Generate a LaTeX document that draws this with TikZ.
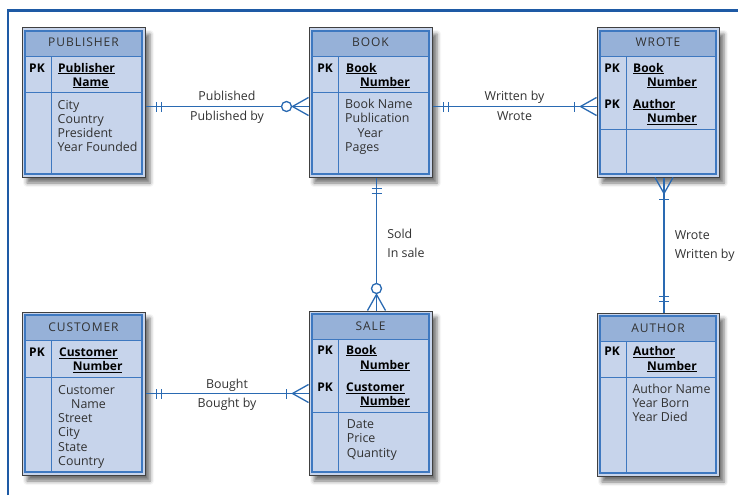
\documentclass[tikz,border=0pt]{standalone}
\usepackage{fontspec}
\setmainfont{Open Sans}
\newfontfamily\headfont[LetterSpace=8]{Open Sans}
\usetikzlibrary{decorations.markings,shadows.blur}

\definecolor{frameblue}{RGB}{30,90,165}
\definecolor{linkblue}{RGB}{42,106,178}
\definecolor{headblue}{RGB}{150,177,216}
\definecolor{bodyblue}{RGB}{199,212,235}
\definecolor{edgeblue}{RGB}{62,120,192}
\definecolor{inkgray}{RGB}{50,50,50}

% table frame: name, left, top, right, bottom, key bottom, title
\newcommand{\ertable}[7]{
	\node[table box, minimum width=#4pt-#2pt, minimum height=#5pt-#3pt] (#1) at ({(#2+#4)/2},{(#3+#5)/2}) {};
	\fill[headblue] (#2+3,#3+3) rectangle (#4-3,#3+28.5);
	\draw[inner line] (#2+3,#3+3) rectangle (#4-3,#5-3);
	\draw[inner line] (#2+3,#3+28.5) -- (#4-3,#3+28.5);
	\draw[inner line] (#2+3,#6) -- (#4-3,#6);
	\draw[inner line] (#2+29.5,#3+28.5) -- (#2+29.5,#5-3);
	\node[head text] (#1-head) at ({(#2+#4)/2},#3+15) {#7};
}

\begin{document}
\begin{tikzpicture}[x=1pt, y=-1pt,
	every node/.style={inner sep=0pt, text height=11pt, text depth=3pt},
	table box/.style={draw=black!75, line width=1pt, fill=bodyblue,
		blur shadow={shadow xshift=5pt, shadow yshift=-6pt, shadow blur radius=4pt, shadow opacity=55}},
	inner line/.style={draw=edgeblue, line width=1.2pt},
	head text/.style={font=\headfont\fontsize{12}{14}\selectfont, text=inkgray},
	pk text/.style={font=\bfseries\fontsize{12}{14}\selectfont, text=black},
	key text/.style={anchor=west, font=\bfseries\fontsize{12}{14}\selectfont, text=black},
	attr text/.style={anchor=west, font=\fontsize{12.4}{14}\selectfont, text=inkgray},
	link label/.style={font=\fontsize{12.4}{14}\selectfont, text=inkgray},
	mark line/.style={draw=linkblue, line width=1.3pt},
	% bars at the start, circle and crow's foot at the end
	one to zeromany/.style={draw=linkblue, line width=1.6pt,
		decoration={markings,
			mark=at position 11pt with {\draw[mark line] (0,-5pt) -- (0,5pt);},
			mark=at position 16pt with {\draw[mark line] (0,-5pt) -- (0,5pt);},
			mark=at position -22pt with {\draw[mark line, fill=white] (0,0) circle (5pt);},
			mark=at position 1 with {\draw[mark line] (0,9pt) -- (-16pt,0) -- (0,-9pt);}},
		postaction={decorate}},
	% bars at the start, bar and crow's foot at the end
	one to onemany/.style={draw=linkblue, line width=1.6pt,
		decoration={markings,
			mark=at position 11pt with {\draw[mark line] (0,-5pt) -- (0,5pt);},
			mark=at position 16pt with {\draw[mark line] (0,-5pt) -- (0,5pt);},
			mark=at position -22pt with {\draw[mark line] (0,-5pt) -- (0,5pt);},
			mark=at position 1 with {\draw[mark line] (0,9pt) -- (-16pt,0) -- (0,-9pt);}},
		postaction={decorate}}
	]
	\useasboundingbox (0,0) rectangle (738,495);

	% outer frame
	\draw[frameblue, line width=2.5pt] (8,495) -- (8,10.5) -- (738,10.5);

	% PUBLISHER
	\ertable{pub}{22}{28}{145}{177}{92.3}{PUBLISHER}
	\node[pk text] (pub-pk) at (37,68) {PK};
	\node[key text] (pub-k1) at (58,68) {\underline{Publisher}};
	\node[key text] (pub-k2) at (72.5,82) {\underline{Name}};
	\foreach \t [count=\i from 0] in {City,Country,President,Year Founded}
		\node[attr text] (pub-a\i) at (57.5,105+14*\i) {\t};

	% BOOK
	\ertable{book}{309}{28}{432}{177}{92.3}{BOOK}
	\node[pk text] (book-pk) at (325,68) {PK};
	\node[key text] (book-k1) at (346,68) {\underline{Book}};
	\node[key text] (book-k2) at (360,82) {\underline{Number}};
	\foreach \t [count=\i from 0] in {Book Name,Publication,\hspace*{12.5pt}Year,Pages}
		\node[attr text] (book-a\i) at (345,104.5+14.3*\i) {\t};

	% WROTE
	\ertable{wrote}{597}{28}{719}{177}{129.3}{WROTE}
	\node[pk text] (wrote-pk1) at (612,68) {PK};
	\node[pk text] (wrote-pk2) at (612,104) {PK};
	\node[key text] (wrote-k1) at (633,68) {\underline{Book}};
	\node[key text] (wrote-k2) at (647,82) {\underline{Number}};
	\node[key text] (wrote-k3) at (633,104) {\underline{Author}};
	\node[key text] (wrote-k4) at (647,118.5) {\underline{Number}};

	% CUSTOMER
	\ertable{cust}{22}{312}{145}{475}{377.3}{CUSTOMER}
	\node[pk text] (cust-pk) at (37,352.7) {PK};
	\node[key text] (cust-k1) at (59,352.7) {\underline{Customer}};
	\node[key text] (cust-k2) at (72.7,366.7) {\underline{Number}};
	\foreach \t [count=\i from 0] in {Customer,\hspace*{13pt}Name,Street,City,State,Country}
		\node[attr text] (cust-a\i) at (58,390+14.3*\i) {\t};

	% SALE
	\ertable{sale}{309}{311}{432}{475}{412.7}{SALE}
	\node[pk text] (sale-pk1) at (325,350) {PK};
	\node[pk text] (sale-pk2) at (325,387.3) {PK};
	\node[key text] (sale-k1) at (346,350) {\underline{Book}};
	\node[key text] (sale-k2) at (360,365) {\underline{Number}};
	\node[key text] (sale-k3) at (346,387.3) {\underline{Customer}};
	\node[key text] (sale-k4) at (360,401) {\underline{Number}};
	\foreach \t [count=\i from 0] in {Date,Price,Quantity}
		\node[attr text] (sale-a\i) at (346.7,424.3+14.5*\i) {\t};

	% AUTHOR
	\ertable{auth}{597}{313}{719}{476}{377.3}{AUTHOR}
	\node[pk text] (auth-pk) at (612,351.7) {PK};
	\node[key text] (auth-k1) at (633,351.7) {\underline{Author}};
	\node[key text] (auth-k2) at (647,366) {\underline{Number}};
	\foreach \t [count=\i from 0] in {Author Name,Year Born,Year Died}
		\node[attr text] (auth-a\i) at (632.3,389.3+14*\i) {\t};

	% relationships
	\draw[one to zeromany] ([yshift=-4pt]pub.east) -- ([yshift=-4pt]book.west)
		node[link label, midway, yshift=10pt] (pub-up) {Published}
		node[link label, midway, yshift=-10pt] (pub-down) {Published by};
	\draw[one to onemany] ([yshift=-4pt]book.east) -- ([yshift=-4pt]wrote.west)
		node[link label, midway, yshift=10pt] (wrote-up) {Written by}
		node[link label, midway, yshift=-10pt] (wrote-down) {Wrote};
	\draw[one to zeromany] ([xshift=6pt]book.south) -- ([xshift=6pt]sale.north)
		node[link label, midway, anchor=west, xshift=10pt, yshift=10pt] (sold-up) {Sold}
		node[link label, midway, anchor=west, xshift=10pt, yshift=-9pt] (sold-down) {In sale};
	\draw[one to onemany] ([xshift=6pt]auth.north) -- ([xshift=6pt]wrote.south)
		node[link label, midway, anchor=west, xshift=10pt, yshift=10pt] (auth-up) {Wrote}
		node[link label, midway, anchor=west, xshift=10pt, yshift=-9pt] (auth-down) {Written by};
	\draw[one to onemany] (cust.east) -- (cust.east -| sale.west)
		node[link label, midway, yshift=9pt] (cust-up) {Bought}
		node[link label, midway, yshift=-10pt] (cust-down) {Bought by};
\end{tikzpicture}
\end{document}
